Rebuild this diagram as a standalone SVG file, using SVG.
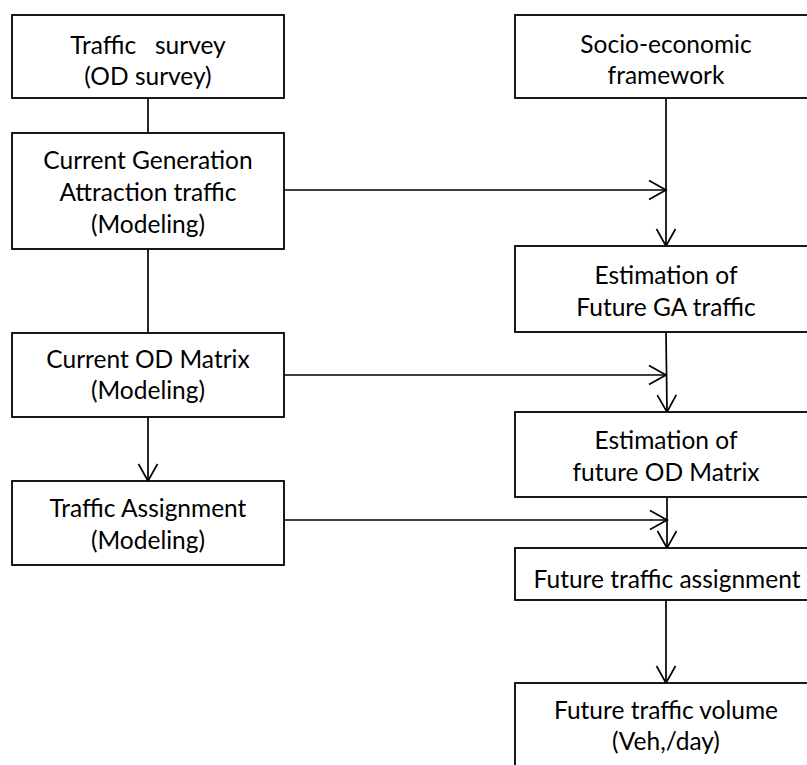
<svg xmlns="http://www.w3.org/2000/svg" width="807" height="765" viewBox="0 0 807 765">
<defs>
<style>
.box{fill:#fff;stroke:#000;stroke-width:1.8}
.t{font-family:Lato,"Liberation Sans",sans-serif;font-size:24.5px;fill:#000;text-anchor:middle}
.c{fill:none;stroke:#000;stroke-width:1.7}
</style>
<marker id="ah" markerUnits="userSpaceOnUse" markerWidth="20" markerHeight="22" viewBox="0 0 20 22" refX="18" refY="11" orient="auto">
<path d="M1,1.5 L18,11 L1,20.5" fill="none" stroke="#000" stroke-width="1.7"/>
</marker>
</defs>
<rect width="807" height="765" fill="#fff"/>
<g id="connectors">
<line class="c" x1="148" y1="98" x2="148" y2="133"/>
<line class="c" x1="148" y1="249" x2="148" y2="333"/>
<line class="c" x1="148" y1="417" x2="148" y2="481" marker-end="url(#ah)"/>
<line class="c" x1="284" y1="190" x2="666" y2="190" marker-end="url(#ah)"/>
<line class="c" x1="666" y1="98" x2="666" y2="246" marker-end="url(#ah)"/>
<line class="c" x1="284" y1="375" x2="666" y2="375" marker-end="url(#ah)"/>
<line class="c" x1="666" y1="332" x2="667" y2="412" marker-end="url(#ah)"/>
<line class="c" x1="284" y1="520" x2="667" y2="520" marker-end="url(#ah)"/>
<line class="c" x1="667" y1="497" x2="667" y2="548" marker-end="url(#ah)"/>
<line class="c" x1="666" y1="600" x2="666" y2="683" marker-end="url(#ah)"/>
</g>
<g id="traffic-survey">
<rect class="box" x="12" y="15" width="272" height="83"/>
<text class="t" x="148" y="54" xml:space="preserve">Traffic   survey</text>
<text class="t" x="148" y="85">(OD survey)</text>
</g>
<g id="current-ga">
<rect class="box" x="12" y="133" width="272" height="116"/>
<text class="t" x="148" y="169">Current Generation</text>
<text class="t" x="148" y="201">Attraction traffic</text>
<text class="t" x="148" y="233">(Modeling)</text>
</g>
<g id="current-od">
<rect class="box" x="12" y="333" width="272" height="84"/>
<text class="t" x="148" y="368">Current OD Matrix</text>
<text class="t" x="148" y="399">(Modeling)</text>
</g>
<g id="traffic-assignment">
<rect class="box" x="12" y="481" width="272" height="84"/>
<text class="t" x="148" y="517">Traffic Assignment</text>
<text class="t" x="148" y="549">(Modeling)</text>
</g>
<g id="socio-economic">
<rect class="box" x="515" y="15" width="302" height="83"/>
<text class="t" x="666" y="53">Socio-economic</text>
<text class="t" x="666" y="84">framework</text>
</g>
<g id="future-ga">
<rect class="box" x="515" y="246" width="302" height="86"/>
<text class="t" x="666" y="284">Estimation of</text>
<text class="t" x="666" y="316">Future GA traffic</text>
</g>
<g id="future-od">
<rect class="box" x="515" y="412" width="302" height="85"/>
<text class="t" x="666" y="449">Estimation of</text>
<text class="t" x="666" y="481">future OD Matrix</text>
</g>
<g id="future-assignment">
<rect class="box" x="515" y="548" width="302" height="52"/>
<text class="t" x="667" y="588">Future traffic assignment</text>
</g>
<g id="future-volume">
<rect class="box" x="515" y="683" width="302" height="100"/>
<text class="t" x="666" y="719">Future traffic volume</text>
<text class="t" x="666" y="750">(Veh,/day)</text>
</g>
</svg>
